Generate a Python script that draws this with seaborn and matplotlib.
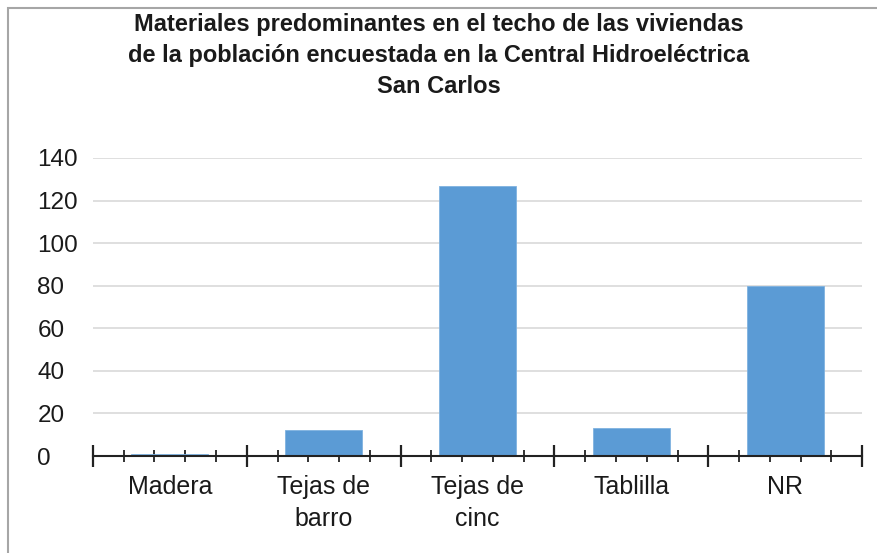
import matplotlib
matplotlib.use("Agg")
import matplotlib.pyplot as plt
import seaborn as sns
import pandas as pd
import numpy as np
from matplotlib.patches import Rectangle

categorias = ["Madera", "Tejas de\nbarro", "Tejas de\ncinc", "Tablilla", "NR"]
valores = [1, 12, 127, 13, 80]
y_ticks = [0, 20, 40, 60, 80, 100, 120, 140]
titulo = ("Materiales predominantes en el techo de las viviendas\n"
          "de la población encuestada en la Central Hidroeléctrica\n"
          "San Carlos")

df = pd.DataFrame({"categoria": categorias, "valor": valores})

sns.set_style("white")
plt.rcParams["font.family"] = ["Liberation Sans", "DejaVu Sans"]

fig = plt.figure(figsize=(8.77, 5.53), dpi=100)
ax = fig.add_axes([0.106, 0.1754, 0.877, 0.539])

sns.barplot(data=df, x="categoria", y="valor", color="#5B9BD5", width=0.5,
            saturation=1, edgecolor="#7fb2e0", linewidth=0.6, ax=ax, zorder=2)

ax.set_xlim(-0.5, len(categorias) - 0.5)
ax.set_ylim(0, 140)
ax.set_yticks(y_ticks)
ax.yaxis.grid(True, color="#d9d9d9", linewidth=1.2)
ax.set_axisbelow(True)
ax.tick_params(axis="y", left=False, length=0, pad=40, labelsize=17.5,
               labelcolor="#1a1a1a")
for lbl in ax.get_yticklabels():
    lbl.set_horizontalalignment("left")

# ticks every fifth of a category, the borders get longer ones
n = len(categorias)
pos = np.arange(5 * n + 1) / 5 - 0.5
ax.set_xticks(pos)
ax.set_xticklabels([""] * len(pos))
ax.set_xticks(np.arange(n), categorias, minor=True)
ax.tick_params(axis="x", which="minor", bottom=True, length=0, pad=14,
               labelsize=18, labelcolor="#1a1a1a")
ax.tick_params(axis="x", which="major", bottom=True, direction="inout",
               length=9, width=1.3, color="#222222")
for i, t in enumerate(ax.xaxis.get_major_ticks()):
    if i % 5 == 0:
        t.tick1line.set_markersize(16)
        t.tick1line.set_markeredgewidth(1.6)
for lbl in ax.get_xticklabels(minor=True):
    lbl.set_linespacing(1.4)

for s in ["top", "right", "left"]:
    ax.spines[s].set_visible(False)
ax.spines["bottom"].set_color("#222222")
ax.spines["bottom"].set_linewidth(1.5)
ax.set_xlabel("")
ax.set_ylabel("")

fig.text(0.5, 0.9, titulo, ha="center", va="center", fontsize=17,
         fontweight="bold", linespacing=1.45, color="#1a1a1a")

fig.patches.append(Rectangle((8 / 877, -0.05), 1.2, 1.05 - 8 / 553,
                             transform=fig.transFigure, fill=False,
                             edgecolor="#a6a6a6", linewidth=1.5))

fig.savefig("out.png", dpi=100)
